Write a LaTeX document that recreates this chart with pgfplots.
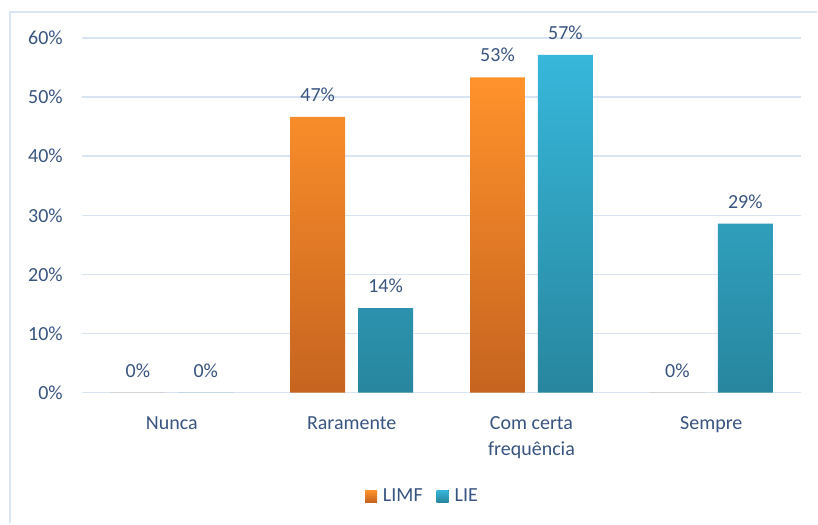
\documentclass[border=0pt]{standalone}
\usepackage{fontspec}
\setmainfont{Carlito}
\usepackage{pgfplots}
\pgfplotsset{compat=1.18}
\definecolor{txt}{RGB}{56,84,128}
\definecolor{gridc}{RGB}{217,228,243}
\definecolor{frame}{RGB}{218,230,245}
\definecolor{orTop}{RGB}{255,146,43}
\definecolor{orBot}{RGB}{198,100,32}
\definecolor{blTop}{RGB}{55,183,218}
\definecolor{blBot}{RGB}{40,134,158}

\begin{document}
\begin{tikzpicture}
% page area and frame (1 px = 1 bp)
\path[fill=white] (-82bp,-131bp) rectangle (736bp,393bp);
\draw[frame, line width=1.6bp] (-72bp,-131bp) -- (-72bp,381bp) -- (736bp,381bp);
\begin{axis}[
    at={(0,0)}, anchor=south west,
    scale only axis,
    width=720bp, height=355bp,
    ybar=13bp, bar width=55bp,
    xmin=-0.5, xmax=3.5,
    ymin=0, ymax=60,
    ytick={0,10,...,60},
    xtick=data,
    xticklabels={Nunca, Raramente, {Com certa\\frequência}, Sempre},
    font=\fontsize{20bp}{26bp}\selectfont,
    /pgf/number format/assume math mode=true,
    yticklabel={\pgfmathprintnumber{\tick}\%},
    axis line style={draw=none},
    major tick length=0pt,
    ymajorgrids=true,
    grid style={gridc, line width=1.4bp},
    ticklabel style={text=txt},
    yticklabel style={anchor=east, inner sep=0pt, xshift=-19bp},
    xticklabel style={anchor=north, align=center, inner sep=0pt, yshift=-24bp},
    nodes near coords={\pgfmathprintnumber[fixed,precision=0]{\pgfplotspointmeta}\%},
    every node near coord/.append style={text=txt, anchor=base, inner sep=0pt, yshift=15.5bp},
    legend style={at={(0.472,-0.292)}, anchor=center, draw=none, fill=none,
        legend columns=2, text=txt,
        nodes={inner sep=0pt},
        /tikz/every odd column/.append style={column sep=6bp},
        /tikz/every even column/.append style={column sep=14bp}},
    legend image code/.code={\fill[#1] (0bp,-6bp) rectangle (12bp,6bp);},
    clip=false,
]
\addplot[draw=none, top color=orTop, bottom color=orBot] coordinates {(0,0) (1,46.67) (2,53.33) (3,0)};
\addlegendentry{LIMF}
\addplot[draw=none, top color=blTop, bottom color=blBot] coordinates {(0,0) (1,14.29) (2,57.14) (3,28.57)};
\addlegendentry{LIE}
\end{axis}
\end{tikzpicture}
\end{document}
